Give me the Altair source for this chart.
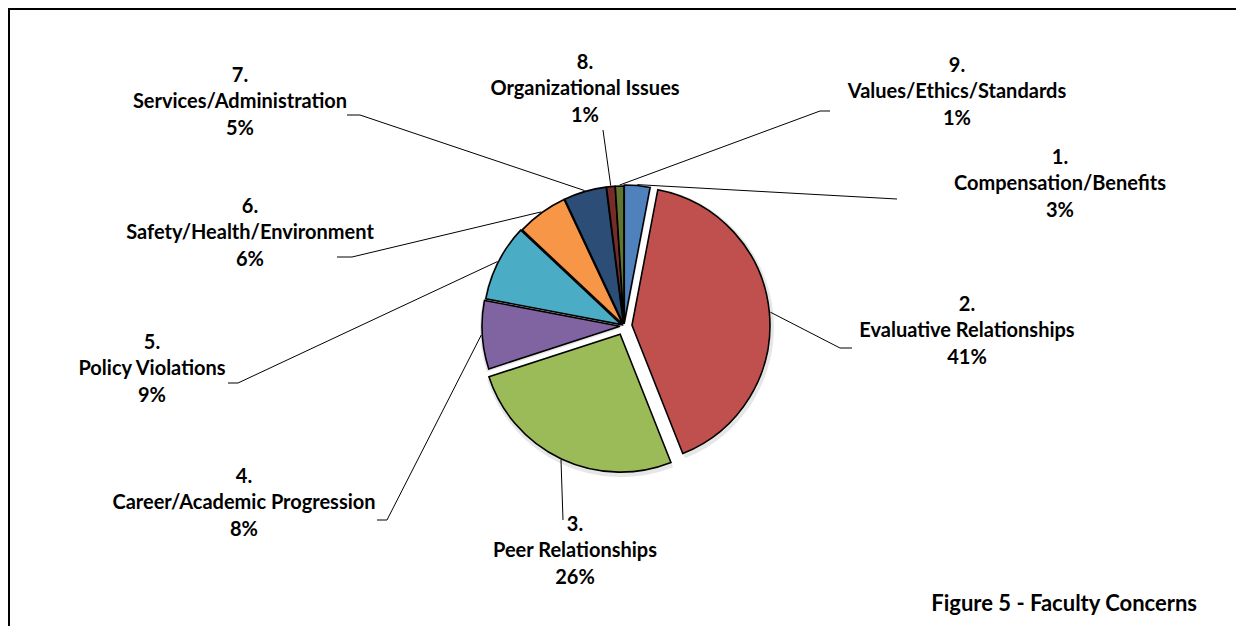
import altair as alt
import pandas as pd

# ---- data ----
nums = ["1.", "2.", "3.", "4.", "5.", "6.", "7.", "8.", "9."]
names = [
    "Compensation/Benefits",
    "Evaluative Relationships",
    "Peer Relationships",
    "Career/Academic Progression",
    "Policy Violations",
    "Safety/Health/Environment",
    "Services/Administration",
    "Organizational Issues",
    "Values/Ethics/Standards",
]
values = [3, 41, 26, 8, 9, 6, 5, 1, 1]
pct_labels = ["3%", "41%", "26%", "8%", "9%", "6%", "5%", "1%", "1%"]
title_text = "Figure 5 - Faculty Concerns"

# ---- styles / layout ----
colors = ["#4F81BD", "#C0504D", "#9BBB59", "#8064A2", "#4BACC6",
          "#F79646", "#2C4D75", "#772C2A", "#5F7530"]
OFF = 8                      # page margin
CX, CY, R = 624, 326, 138    # pie centre / radius (page px)
LH = 26.5                    # label line height
explode = [3, 8, 9, 4, 3, 2, 2, 2, 2]
label_x = [1060, 967, 575, 244, 152, 250, 240, 585, 957]
label_y = [184, 331, 551, 503, 369, 233, 102, 89, 92]   # middle line centres
elbow_x = [897, 840, 563, 387, 238, 352, 360, 603, 820]
elbow_y = [199, 348, 520, 520, 383, 257, 115, 130, 111]
end_x = [897, 852, 563, 377, 228, 337, 347, 603, 830]
W, H = 1228, 618

df = pd.DataFrame({
    "order": list(range(len(values))),
    "name": names,
    "value": values,
    "label": [f"{n}\n{nm}\n{p}" for n, nm, p in zip(nums, names, pct_labels)],
    "explode": explode,
    "lx": [v - OFF for v in label_x],
    "ly": [v - OFF - LH for v in label_y],
    "ex": [v - OFF for v in elbow_x],
    "ey": [v - OFF for v in elbow_y],
    "hx": [v - OFF for v in end_x],
})

base = alt.Chart(df).transform_joinaggregate(
    total="sum(value)"
).transform_window(
    cum="sum(value)", sort=[alt.SortField("order")], frame=[None, 0]
).transform_calculate(
    t0="(datum.cum - datum.value) / datum.total * 2 * PI",
    t1="datum.cum / datum.total * 2 * PI",
).transform_calculate(
    mid="(datum.t0 + datum.t1) / 2"
).transform_calculate(
    px=f"{CX - OFF} + datum.explode * sin(datum.mid)",
    py=f"{CY - OFF} - datum.explode * cos(datum.mid)",
).transform_calculate(
    sx=f"datum.px + {R + 1} * sin(datum.mid)",
    sy=f"datum.py - {R + 1} * cos(datum.mid)",
)

X = lambda f: alt.X(f, type="quantitative", scale=None, axis=None)
Y = lambda f: alt.Y(f, type="quantitative", scale=None, axis=None)

shadow = base.transform_calculate(
    qx="datum.px + 1", qy="datum.py + 2"
).mark_arc(outerRadius=R + 3, fill="#9a9a9a", opacity=0.25).encode(
    x=X("qx"), y=Y("qy"),
    theta=alt.Theta("t0:Q", scale=None, stack=False),
    theta2="t1:Q",
)

pie = base.mark_arc(outerRadius=R, stroke="black", strokeWidth=1.6).encode(
    x=X("px"), y=Y("py"),
    theta=alt.Theta("t0:Q", scale=None, stack=False),
    theta2="t1:Q",
    color=alt.Color("name:N", scale=alt.Scale(domain=names, range=colors), legend=None),
)

leader = base.mark_rule(color="black", strokeWidth=1).encode(
    x=X("sx"), y=Y("sy"), x2="ex:Q", y2="ey:Q"
)
leader_h = base.mark_rule(color="black", strokeWidth=1).encode(
    x=X("ex"), x2="hx:Q", y=Y("ey")
)

labels = base.mark_text(
    font="Lato", fontWeight="bold", fontSize=20, lineBreak="\n",
    lineHeight=LH, align="center", baseline="middle", color="black"
).encode(x=X("lx"), y=Y("ly"), text="label:N")

one = alt.Chart(pd.DataFrame({"t": [title_text]}))
title = one.mark_text(
    font="Lato", fontWeight="bold", fontSize=22, align="right",
    baseline="middle", color="black"
).encode(x=alt.value(1197 - OFF), y=alt.value(604 - OFF), text="t:N")

border_l = one.mark_rule(color="black", strokeWidth=2).encode(
    x=alt.value(1), y=alt.value(0), y2=alt.value(H))
border_t = one.mark_rule(color="black", strokeWidth=2).encode(
    x=alt.value(0), x2=alt.value(W), y=alt.value(1))

chart = alt.layer(
    shadow, pie, leader, leader_h, labels, title, border_l, border_t
).properties(
    width=W, height=H, autosize="none", padding=0
).configure_view(stroke=None).configure(background="white")

chart.save("out.html", embed_options={"renderer": "svg", "actions": False})
